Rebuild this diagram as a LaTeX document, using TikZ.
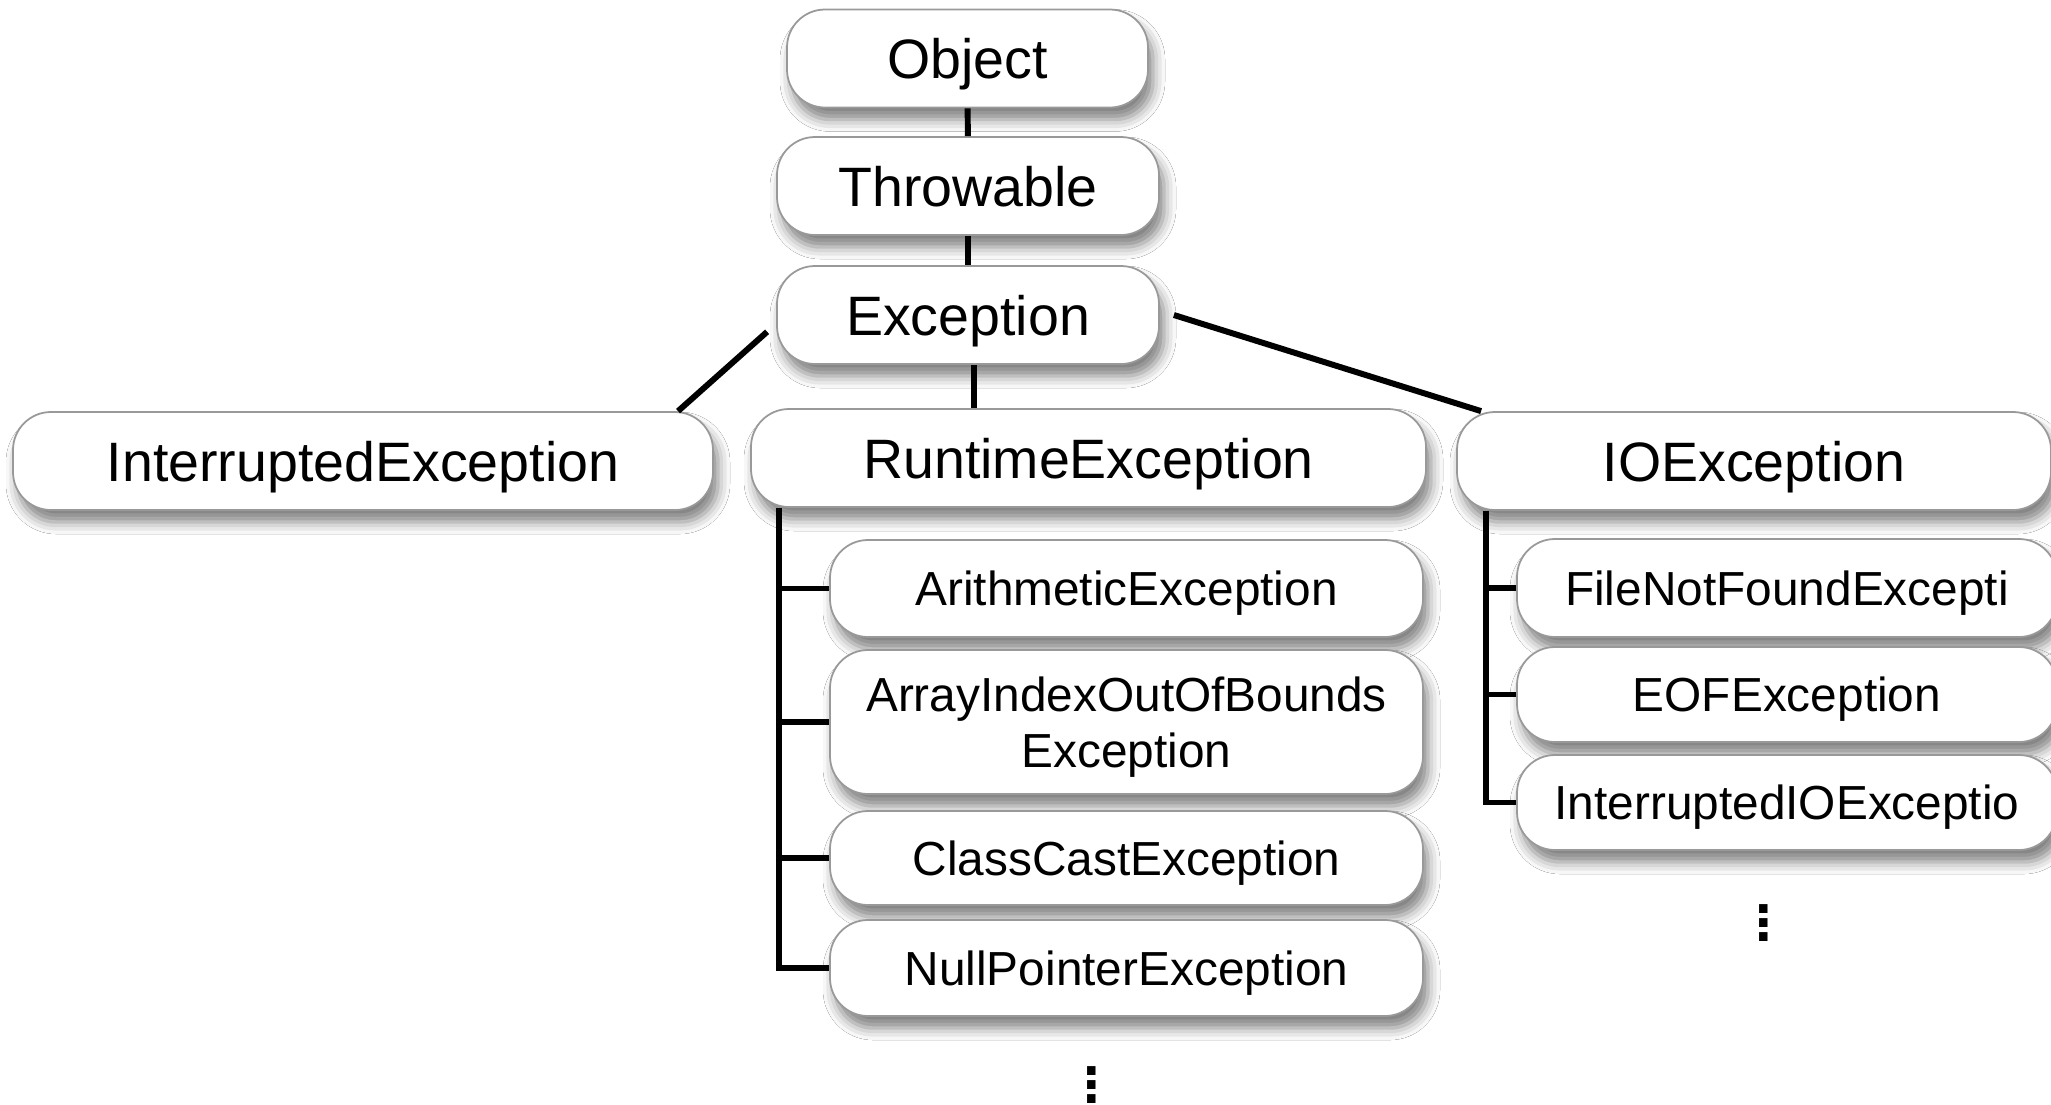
\documentclass[tikz,border=0pt]{standalone}
\usepackage{fontspec}
\setmainfont{Liberation Sans}
\usetikzlibrary{shapes,shadows,shadows.blur,calc,positioning}

\begin{document}
\begin{tikzpicture}[clss/.style={draw=gray!80, line width=0.5pt, fill=white,
		rounded corners=0.38cm, minimum height=0.98cm, text depth=0pt,
		blur shadow={shadow xshift=0.5mm, shadow yshift=-1.2mm,
		shadow blur radius=1.2mm, shadow opacity=50},
		font=\fontsize{15.8}{19}\selectfont}, sub/.style={clss, align=center,
		font=\fontsize{13.6}{16}\selectfont}, link/.style={line width=1.7pt},
		dots/.style={anchor=south, inner sep=0pt, font=\fontsize{17}{17}\selectfont\bfseries}]
	\useasboundingbox[fill=white] (0,0) rectangle (20.51,-11.05);
	\node [clss, minimum width=3.61cm] (0) at (9.675,-0.585) {Object};
	\node [clss, minimum width=3.82cm] (1) at (9.68,-1.86) {Throwable};
	\node [clss, minimum width=3.82cm] (2) at (9.68,-3.15) {Exception};
	\node [clss, minimum width=7cm] (3) at (3.63,-4.61) {InterruptedException};
	\node [clss, minimum width=6.75cm] (4) at (10.885,-4.58) {RuntimeException};
	\node [clss, minimum width=5.94cm] (5) at (17.54,-4.61) {IOException};
	\node [sub, minimum width=5.93cm, minimum height=0.97cm] (6) at (11.265,-5.885) {ArithmeticException};
	\node [sub, minimum width=5.93cm, minimum height=1.44cm] (7) at (11.265,-7.22) {ArrayIndexOutOfBounds\\Exception};
	\node [sub, minimum width=5.93cm, minimum height=0.94cm] (8) at (11.265,-8.58) {ClassCastException};
	\node [sub, minimum width=5.93cm, minimum height=0.96cm] (9) at (11.265,-9.68) {NullPointerException};
	\node [sub, minimum width=5.4cm] (10) at (17.87,-5.88) {FileNotFoundExcepti};
	\node [sub, minimum width=5.4cm, minimum height=0.95cm] (11) at (17.87,-6.945) {EOFException};
	\node [sub, minimum width=5.4cm, minimum height=0.95cm] (12) at (17.87,-8.025) {InterruptedIOExceptio};
	\node [dots] (13) at (17.64,-9.42) {\vdots};
	\node [dots] (14) at (10.92,-11.04) {\vdots};
	\draw [link] (0) -- (1);
	\draw [link] (1) -- (2);
	\draw [link] ([xshift=0.6mm]2.south) -- ([xshift=0.6mm]2.south |- 4.north);
	\draw [link] ([xshift=-0.9mm]2.185) -- (3.9);
	\draw [link] ([xshift=1.4mm]2.east) -- ([xshift=2.5mm]5.north west);
	\draw [link] ([xshift=2.9mm]4.south west) coordinate (r) |- (9.west);
	\foreach \n in {6,7,8} \draw [link] (\n.west) -- (\n.west -| r);
	\draw [link] ([xshift=3mm]5.south west) coordinate (s) |- (12.west);
	\foreach \n in {10,11} \draw [link] (\n.west) -- (\n.west -| s);
	\end{tikzpicture}
\end{document}
